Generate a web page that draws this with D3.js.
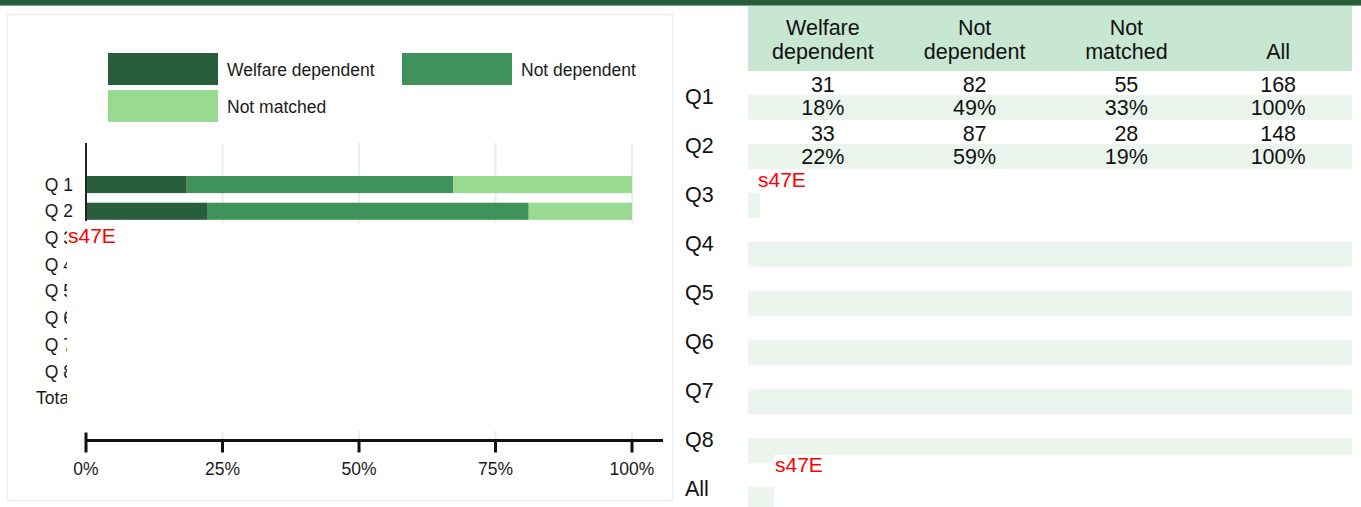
<!DOCTYPE html>
<html>
 <head>
  <meta charset="utf-8" />
  <title>Welfare dependency by quintile</title>
  <style>
   body, html {
    margin: 0;
    padding: 0;
    overflow: hidden;
    background: #fff;
   }
   svg {
    display: block;
    font-family: "Liberation Sans", Arial, sans-serif;
   }
   .tick-label, .row-label, .legend text {
    font-size: 17.5px;
    fill: #1a1a1a;
   }
   .tbl text {
    font-size: 21.5px;
    fill: #111;
   }
   .redact {
    fill: #f00;
    font-size: 21px;
   }
  </style>
  <script src="https://cdnjs.cloudflare.com/ajax/libs/d3/7.9.0/d3.min.js"></script>
 </head>
 <body>
  <svg width="1361" height="507"></svg>
  <script>
   // data
   const categories = ["Welfare dependent", "Not dependent", "Not matched"];
   const chartRows = ["Q 1", "Q 2", "Q 3", "Q 4", "Q 5", "Q 6", "Q 7", "Q 8", "Total"];
   const tableRows = ["Q1", "Q2", "Q3", "Q4", "Q5", "Q6", "Q7", "Q8", "All"];
   const welfareDependent = [31, 33];
   const notDependent = [82, 87];
   const notMatched = [55, 28];
   const xTicks = [0, 0.25, 0.5, 0.75, 1];
   const headerLines = [["Welfare", "dependent"], ["Not", "dependent"], ["Not", "matched"], ["", "All"]];
   const colours = ["#285e3b", "#3e925a", "#97da90"];

   const svg = d3.select("svg");

   // clip for the row labels that sit under the redaction box
   svg.append("defs").append("clipPath").attr("id", "label-clip")
    .append("rect").attr("x", 0).attr("y", 0).attr("width", 67).attr("height", 507);

   // dark strip along the top
   svg.append("rect").attr("x", 0).attr("y", 0).attr("width", 1361).attr("height", 5).attr("fill", "#265e3a");
   svg.append("rect").attr("x", 0).attr("y", 5).attr("width", 1361).attr("height", 1).attr("fill", "#7fa58b");

   // ---------- left panel: stacked bar chart ----------
   svg.append("rect")
    .attr("x", 7.5).attr("y", 14.5).attr("width", 665).attr("height", 486)
    .attr("fill", "none").attr("stroke", "#eaf0f0").attr("stroke-width", 1.5);

   const records = welfareDependent.map((w, i) => ({
    row: chartRows[i],
    "Welfare dependent": w,
    "Not dependent": notDependent[i],
    "Not matched": notMatched[i]
   }));

   const stacked = d3.stack().keys(categories).offset(d3.stackOffsetExpand)(records);

   const x = d3.scaleLinear().domain([0, 1]).range([86, 632]);
   const y = d3.scaleBand().domain(chartRows).range([171.2, 411.5]).paddingInner(0.36).paddingOuter(0.18);
   const colour = d3.scaleOrdinal().domain(categories).range(colours);

   // grid
   svg.append("g").selectAll("line")
    .data(xTicks.slice(1))
    .enter().append("line")
    .attr("x1", d => x(d)).attr("x2", d => x(d))
    .attr("y1", 143).attr("y2", 440)
    .attr("stroke", "#e6eef3").attr("stroke-width", 2);

   svg.append("g").selectAll("g")
    .data(stacked)
    .enter().append("g")
    .attr("fill", d => colour(d.key))
    .selectAll("rect")
    .data(d => d)
    .enter().append("rect")
    .attr("x", d => x(d[0]))
    .attr("width", d => x(d[1]) - x(d[0]))
    .attr("y", d => y(d.data.row))
    .attr("height", y.bandwidth());

   // y axis line and labels
   svg.append("line")
    .attr("x1", 86).attr("x2", 86).attr("y1", 143).attr("y2", 221)
    .attr("stroke", "#222").attr("stroke-width", 2);

   svg.append("g").selectAll("text")
    .data(chartRows)
    .enter().append("text")
    .attr("class", "row-label")
    .attr("x", 73)
    .attr("y", d => y(d) + y.bandwidth() / 2)
    .attr("dy", "0.35em")
    .attr("text-anchor", "end")
    .attr("clip-path", (d, i) => i >= 2 ? "url(#label-clip)" : null)
    .text(d => d);

   // x axis
   const xAxis = svg.append("g").attr("transform", "translate(0,440.5)");
   xAxis.append("line").attr("x1", 85).attr("x2", 663).attr("stroke", "#111").attr("stroke-width", 3);
   xAxis.selectAll("line.tick")
    .data(xTicks)
    .enter().append("line")
    .attr("class", "tick")
    .attr("x1", d => x(d)).attr("x2", d => x(d))
    .attr("y1", d => d === 0 ? -8 : 0).attr("y2", 12)
    .attr("stroke", "#111").attr("stroke-width", 3);
   xAxis.selectAll("text")
    .data(xTicks)
    .enter().append("text")
    .attr("class", "tick-label")
    .attr("x", d => x(d))
    .attr("y", 34)
    .attr("text-anchor", "middle")
    .text(d3.format(".0%"));

   // legend
   const legendPos = [[108, 53], [402, 53], [108, 90]];
   const legend = svg.append("g").attr("class", "legend").selectAll("g")
    .data(categories)
    .enter().append("g")
    .attr("transform", (d, i) => `translate(${legendPos[i][0]},${legendPos[i][1]})`);
   legend.append("rect").attr("width", 110).attr("height", 32).attr("fill", d => colour(d));
   legend.append("text").attr("x", 119).attr("y", 17).attr("dy", "0.35em").text(d => d);

   // redaction over the empty rows
   svg.append("rect").attr("x", 67).attr("y", 223).attr("width", 601).attr("height", 208).attr("fill", "#fff");
   svg.append("text").attr("class", "redact").attr("x", 68).attr("y", 243).text("s47E");

   // ---------- right panel: table ----------
   const tbl = svg.append("g").attr("class", "tbl");
   const cols = categories.concat(["All"]);
   const cx = d3.scaleBand().domain(cols).range([747, 1354]);
   const ry = d3.scaleBand().domain(tableRows).range([71, 71 + 49 * tableRows.length]);

   tbl.append("rect").attr("x", 748).attr("y", 6).attr("width", 604).attr("height", 65).attr("fill", "#c8e7d2");

   tbl.selectAll("rect.band")
    .data(tableRows)
    .enter().append("rect")
    .attr("class", "band")
    .attr("x", 748).attr("width", 604)
    .attr("y", d => ry(d) + 24)
    .attr("height", 25)
    .attr("fill", "#ebf5ee");

   const header = tbl.selectAll("g.head")
    .data(cols)
    .enter().append("g")
    .attr("class", "head")
    .attr("transform", d => `translate(${cx(d) + cx.bandwidth() / 2},0)`);
   header.selectAll("text")
    .data((d, i) => headerLines[i])
    .enter().append("text")
    .attr("y", (d, i) => 35 + i * 24)
    .attr("text-anchor", "middle")
    .text(d => d);

   tbl.selectAll("text.rl")
    .data(tableRows)
    .enter().append("text")
    .attr("class", "rl")
    .attr("x", 685)
    .attr("y", d => ry(d) + 25)
    .attr("dy", "0.35em")
    .text(d => d);

   const cells = [];
   welfareDependent.forEach((w, i) => {
    const vals = [w, notDependent[i], notMatched[i]];
    const total = d3.sum(vals);
    vals.concat([total]).forEach((v, j) => {
     cells.push({ row: tableRows[i], col: cols[j], count: v, pct: Math.round(v / total * 100) + "%" });
    });
   });

   tbl.selectAll("text.count")
    .data(cells)
    .enter().append("text")
    .attr("class", "count")
    .attr("x", d => cx(d.col) + cx.bandwidth() / 2)
    .attr("y", d => ry(d.row) + 13)
    .attr("dy", "0.35em")
    .attr("text-anchor", "middle")
    .text(d => d.count);

   tbl.selectAll("text.pct")
    .data(cells)
    .enter().append("text")
    .attr("class", "pct")
    .attr("x", d => cx(d.col) + cx.bandwidth() / 2)
    .attr("y", d => ry(d.row) + 36)
    .attr("dy", "0.35em")
    .attr("text-anchor", "middle")
    .text(d => d.pct);

   // redactions in the table
   svg.append("rect").attr("x", 760).attr("y", 169).attr("width", 601).attr("height", 53).attr("fill", "#fff");
   svg.append("text").attr("class", "redact").attr("x", 758).attr("y", 187).text("s47E");
   svg.append("rect").attr("x", 774).attr("y", 455).attr("width", 587).attr("height", 52).attr("fill", "#fff");
   svg.append("text").attr("class", "redact").attr("x", 775).attr("y", 472).text("s47E");
  </script>
 </body>
</html>
